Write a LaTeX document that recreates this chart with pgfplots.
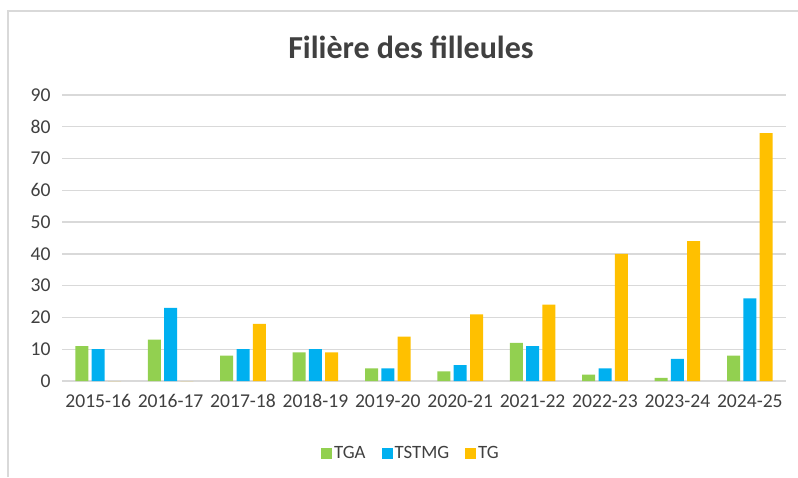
\documentclass[border=0pt]{standalone}
\usepackage{pgfplots}
\pgfplotsset{compat=1.18}
\usepackage{fontspec}
\setmainfont{Carlito}
\definecolor{cTGA}{HTML}{92D050}
\definecolor{cTST}{HTML}{00B0F0}
\definecolor{cTG}{HTML}{FFC000}
\definecolor{txt}{HTML}{404040}
\definecolor{grd}{HTML}{D9D9D9}
\begin{document}
\begin{tikzpicture}[x=1pt,y=1pt]
\useasboundingbox (0,0) rectangle (798,477);
\draw[grd, line width=1.5pt] (8,0) -- (8,466) -- (800,466);
\node[text=txt, font=\fontsize{32}{38}\selectfont\bfseries, anchor=base] at (411,418) {Filière des filleules};
\begin{axis}[
  at={(62pt,96pt)}, anchor=south west,
  scale only axis, width=724pt, height=286pt,
  xmin=-0.5, xmax=9.5, ymin=0, ymax=90,
  ytick={0,10,...,90},
  xtick={0,...,9},
  xticklabels={2015-16,2016-17,2017-18,2018-19,2019-20,2020-21,2021-22,2022-23,2023-24,2024-25},
  /pgf/number format/assume math mode=true,
  ticklabel style={text=txt, font=\fontsize{19.6}{23}\selectfont},
  xticklabel style={yshift=-10pt},
  yticklabel style={xshift=-8pt},
  major tick length=0pt,
  axis line style={draw=none},
  ymajorgrids, major grid style={grd, line width=1.3pt},
  ybar=3.3pt, bar width=13pt,
  legend columns=3,
  legend style={at={(0.482,-0.252)}, anchor=center, draw=none, fill=none,
    font=\fontsize{18.8}{22}\selectfont, text=txt,
    nodes={inner sep=2pt},
    /tikz/every even column/.append style={column sep=14pt}},
  legend image code/.code={\fill[#1] (0pt,-5.5pt) rectangle (11pt,5.5pt);},
]
\addplot[fill=cTGA, draw=none] coordinates {(0,11) (1,13) (2,8) (3,9) (4,4) (5,3) (6,12) (7,2) (8,1) (9,8)};
\addplot[fill=cTST, draw=none] coordinates {(0,10) (1,23) (2,10) (3,10) (4,4) (5,5) (6,11) (7,4) (8,7) (9,26)};
\addplot[fill=cTG, draw=none] coordinates {(0,0) (1,0) (2,18) (3,9) (4,14) (5,21) (6,24) (7,40) (8,44) (9,78)};
\legend{TGA,TSTMG,TG}
\end{axis}
\end{tikzpicture}
\end{document}
